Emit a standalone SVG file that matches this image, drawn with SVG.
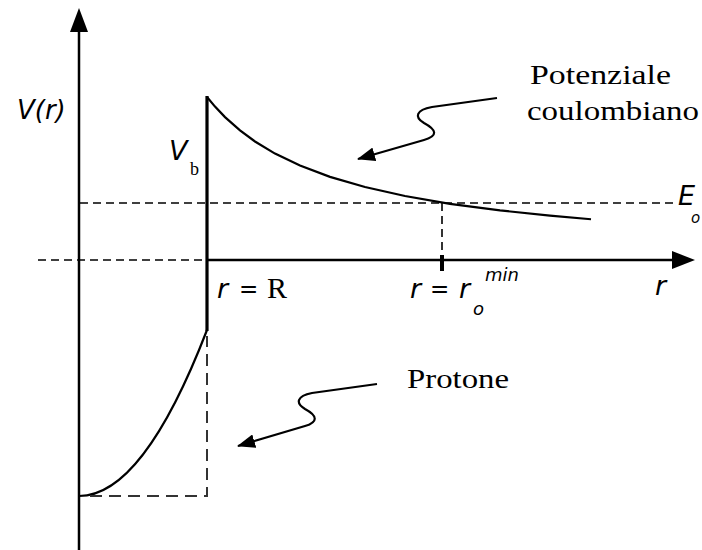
<svg xmlns="http://www.w3.org/2000/svg" width="702" height="550" viewBox="0 0 702 550">
<defs>
<style>
.ax{stroke:#000;stroke-width:2.5;fill:none}
.dash{stroke:#000;stroke-width:1.6;fill:none;stroke-dasharray:8 5}
.dash2{stroke:#333;stroke-width:2;fill:none;stroke-dasharray:12 7}
.curve{stroke:#000;stroke-width:2.2;fill:none}
.wig{stroke:#000;stroke-width:2.2;fill:none}
.it{font-family:"DejaVu Sans",sans-serif;font-style:italic;fill:#000}
.sf{font-family:"Liberation Serif",serif;fill:#000}
.eq{font-family:"DejaVu Sans",sans-serif;fill:#000}
</style>
<marker id="ah" markerUnits="userSpaceOnUse" markerWidth="18" markerHeight="14" viewBox="0 0 18 14" refX="17" refY="7" orient="auto">
<path d="M0,0 L18,7 L0,14 Z" fill="#000"/>
</marker>
</defs>
<rect width="702" height="550" fill="#fff"/>
<g id="axes">
<line class="ax" x1="79" y1="550" x2="79" y2="30"/>
<polygon points="70,32 79,8 88,32" fill="#000"/>
<line class="ax" x1="207" y1="260" x2="674" y2="260"/>
<polygon points="672,251 695,260 672,269" fill="#000"/>
<line class="dash" x1="38" y1="260" x2="207" y2="260"/>
<line class="dash" x1="80" y1="203" x2="678" y2="203"/>
<line class="dash" x1="442" y1="203" x2="442" y2="256"/>
<line x1="442" y1="255" x2="442" y2="271" stroke="#000" stroke-width="4"/>
</g>
<g id="barrier">
<line x1="207" y1="96" x2="207" y2="331" stroke="#000" stroke-width="3.2"/>
</g>
<g id="coulomb-curve">
<polyline class="curve" points="207,97 215,106.6 225,117.1 240,130.4 255,141.5 275,153.6 300,165.6 330,176.9 365,187.05 405,196 450,203.8 500,210.4 550,215.7 591,219.25"/>
</g>
<g id="proton-well">
<path class="curve" d="M79,496 Q143,496 207,330"/>
<path class="dash2" d="M90,496 L207,496 L207,336"/>
</g>
<g id="labels">
<text class="it" x="17" y="119" font-size="26">V(r)</text>
<text class="it" x="169" y="160" font-size="27">V</text>
<text class="sf" x="190" y="175" font-size="18">b</text>
<text class="it" x="217" y="298" font-size="27">r</text>
<text class="eq" x="239" y="297" font-size="23">=</text>
<text class="sf" x="267" y="298" font-size="30">R</text>
<text class="it" x="410" y="298" font-size="27">r</text>
<text class="eq" x="430" y="297" font-size="23">=</text>
<text class="it" x="459" y="298" font-size="27">r</text>
<text class="it" x="473" y="315" font-size="18">o</text>
<text class="it" x="485" y="281" font-size="18">min</text>
<text class="it" x="655" y="295" font-size="27">r</text>
<text class="it" x="678" y="205" font-size="27">E</text>
<text class="it" x="691" y="223" font-size="15">o</text>
<text class="sf" x="530" y="84" font-size="28" textLength="141" lengthAdjust="spacingAndGlyphs">Potenziale</text>
<text class="sf" x="527" y="120" font-size="28" textLength="172" lengthAdjust="spacingAndGlyphs">coulombiano</text>
<text class="sf" x="407" y="388" font-size="28" textLength="102" lengthAdjust="spacingAndGlyphs">Protone</text>
</g>
<g id="connectors">
<path class="wig" marker-end="url(#ah)" d="M497,98 L432,107 C416,110 414,117 424,123 C437,130 438,136 424,140 L358,159"/>
<path class="wig" marker-end="url(#ah)" d="M377,384 L312,393 C297,396 295,403 305,409 C318,416 318,422 305,426 L238,446"/>
</g>
</svg>
